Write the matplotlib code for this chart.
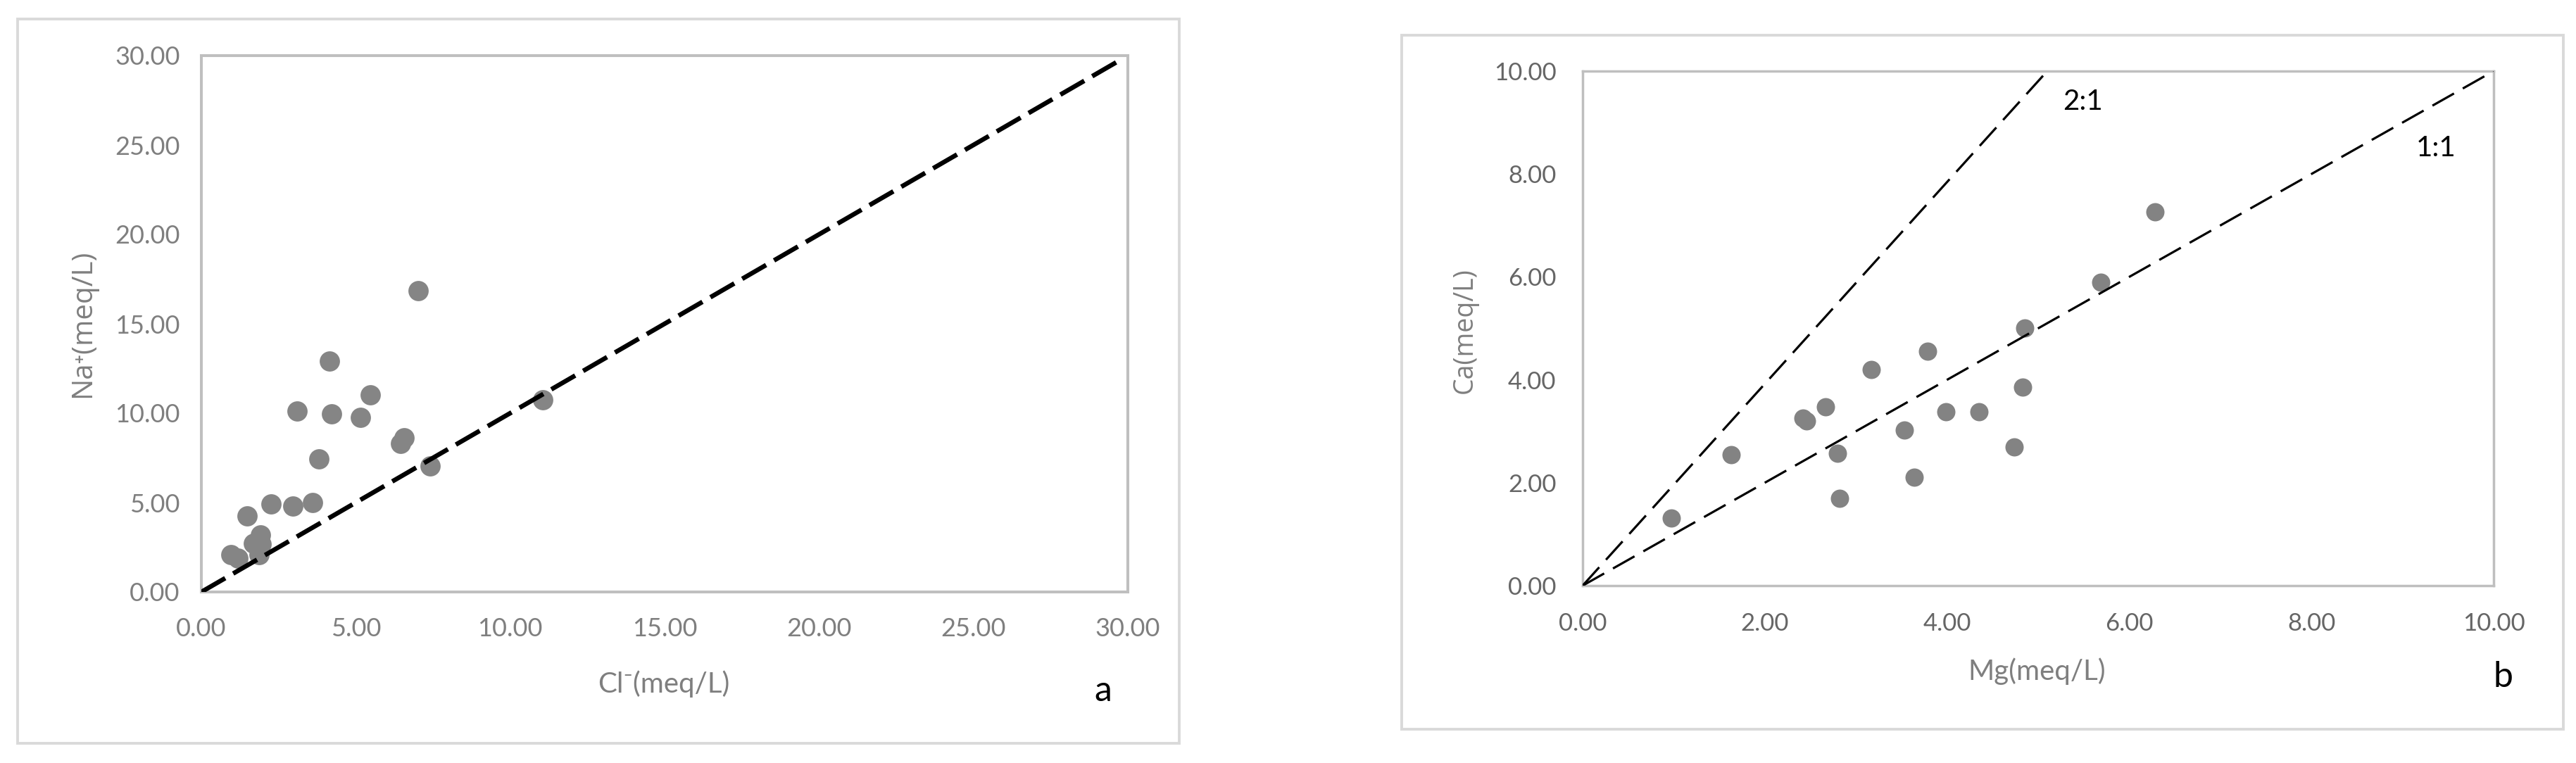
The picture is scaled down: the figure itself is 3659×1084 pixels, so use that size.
import matplotlib.pyplot as plt
from matplotlib.patches import Rectangle

# panel a: Cl- vs Na+ (meq/L)
cl = [0.95, 1.18, 1.49, 1.68, 1.92, 1.94, 1.88, 2.26, 2.96, 3.10, 3.60, 3.80,
      4.15, 4.21, 5.15, 5.46, 6.46, 6.56, 7.01, 7.41, 11.06]
na = [2.09, 1.90, 4.26, 2.72, 3.17, 2.68, 2.07, 4.91, 4.82, 10.13, 5.01, 7.45,
      12.90, 9.95, 9.78, 11.02, 8.30, 8.62, 16.84, 7.04, 10.75]

# panel b: Mg vs Ca (meq/L)
mg = [0.97, 1.63, 2.42, 2.46, 2.67, 2.80, 2.82, 3.17, 3.53, 3.64, 3.79, 3.99,
      4.35, 4.74, 4.83, 4.85, 5.69, 6.28]
ca = [1.31, 2.54, 3.25, 3.20, 3.48, 2.57, 1.70, 4.20, 3.02, 2.11, 4.55, 3.38,
      3.38, 2.70, 3.86, 5.00, 5.90, 7.27]

ticks_a = [0, 5, 10, 15, 20, 25, 30]
ticks_b = [0, 2, 4, 6, 8, 10]

W, H = 3659, 1084
fig = plt.figure(figsize=(W / 100, H / 100), dpi=100)

def box(x0, y0, x1, y1):
    # pixel box (top-left origin) -> figure fraction [l, b, w, h]
    return [x0 / W, 1 - y1 / H, (x1 - x0) / W, (y1 - y0) / H]

def ftext(x, y, s, **kw):
    fig.text(x / W, 1 - y / H, s, ha='center', va='center', **kw)

# outer chart frames
for x0, y0, x1, y1 in [(25, 27, 1675, 1056), (1991, 50, 3641, 1036)]:
    fig.patches.append(Rectangle((x0 / W, 1 - y1 / H), (x1 - x0) / W, (y1 - y0) / H,
                                 transform=fig.transFigure, fill=False,
                                 edgecolor='#d9d9d9', lw=2.8))

fnt = ['Lato', 'DejaVu Sans']
wide = ['Open Sans', 'DejaVu Sans']

# ---- panel a
ax1 = fig.add_axes(box(286, 79, 1602, 841))
ax1.scatter(cl, na, s=430, color='#858585', zorder=2, linewidths=0)
ax1.plot([0, 29.8], [0, 29.8], color='black', lw=4.7, dashes=(6, 2), zorder=3)
ax1.set_xlim(0, 30)
ax1.set_ylim(0, 30)
ax1.set_xticks(ticks_a)
ax1.set_yticks(ticks_a)
ax1.set_xticklabels([f'{t:.2f}' for t in ticks_a], family=fnt, fontsize=26, color='#7f7f7f')
ax1.set_yticklabels([f'{t:.2f}' for t in ticks_a], family=fnt, fontsize=26, color='#7f7f7f')
ax1.tick_params(length=0, pad=22)
ax1.tick_params(axis='x', pad=26)
for sp in ax1.spines.values():
    sp.set_color('#bfbfbf')
    sp.set_linewidth(2.9)

ftext(943, 972, 'Cl⁻(meq/L)', family=fnt, fontsize=29, color='#7f7f7f')
ftext(118, 460, 'Na⁺(meq/L)', family=wide, fontsize=29, color='#7f7f7f', rotation=90)
ftext(1567, 982, 'a', family=fnt, fontsize=36, color='black')

# ---- panel b
ax2 = fig.add_axes(box(2248, 101, 3542, 832))
ax2.scatter(mg, ca, s=350, color='#838383', zorder=2, linewidths=0)
ax2.plot([0, 10], [0, 10], color='black', lw=2.3, dashes=(11, 4.5), zorder=3)
ax2.plot([0, 5.1], [0, 10], color='black', lw=2.3, dashes=(11, 4.5), zorder=3)
ax2.set_xlim(0, 10)
ax2.set_ylim(0, 10)
ax2.set_xticks(ticks_b)
ax2.set_yticks(ticks_b)
ax2.set_xticklabels([f'{t:.2f}' for t in ticks_b], family=fnt, fontsize=25, color='#666666')
ax2.set_yticklabels([f'{t:.2f}' for t in ticks_b], family=fnt, fontsize=25, color='#666666')
ax2.tick_params(length=0, pad=27)
ax2.tick_params(axis='x', pad=27)
for sp in ax2.spines.values():
    sp.set_color('#bfbfbf')
    sp.set_linewidth(2.5)

ax2.text(5.49, 9.40, '2:1', family=fnt, fontsize=29, color='black', ha='center', va='center')
ax2.text(9.37, 8.50, '1:1', family=fnt, fontsize=29, color='black', ha='center', va='center')

ftext(2893, 954, 'Mg(meq/L)', family=fnt, fontsize=29, color='#7f7f7f')
ftext(2081, 470, 'Ca(meq/L)', family=wide, fontsize=27, color='#7f7f7f', rotation=90)
ftext(3555, 962, 'b', family=fnt, fontsize=36, color='black')

plt.savefig('out.png', dpi=100)
